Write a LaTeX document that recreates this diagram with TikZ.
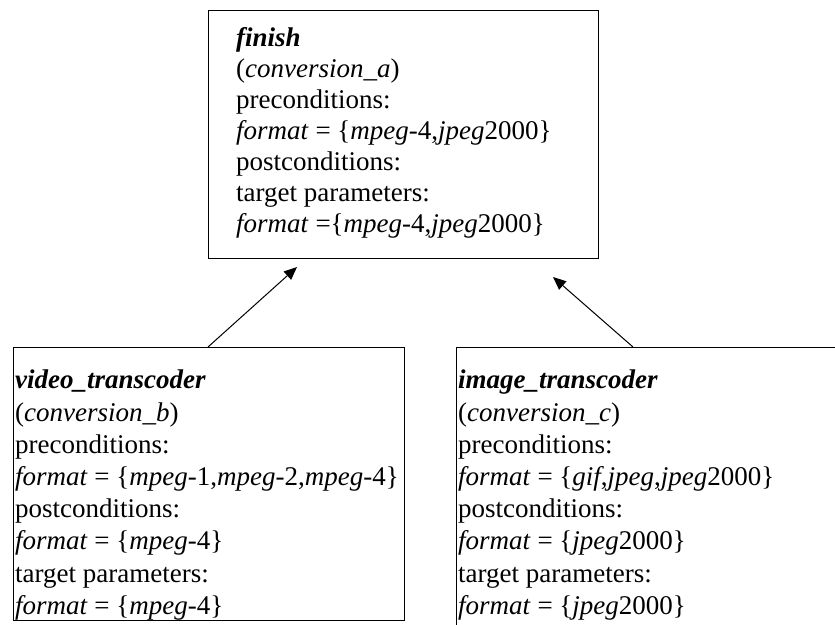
\documentclass[tikz,border=0pt]{standalone}
\usepackage{fontspec}
\setmainfont{Liberation Serif}
\usetikzlibrary{arrows.meta,calc}
\begin{document}
\begin{tikzpicture}[x=1pt,y=-1pt,
  frame/.style={draw=black,line width=1.2pt,inner sep=0pt,anchor=north west},
  txt/.style={anchor=north west,align=left,inner sep=0pt,font=\fontsize{27}{31}\selectfont},
  txtb/.style={txt,font=\fontsize{27}{32.2}\selectfont},
  arr/.style={draw=black,line width=1pt,-{Triangle[length=13pt,width=11pt]}}]
\useasboundingbox (0,0) rectangle (835,624);
\clip (0,0) rectangle (835,624);
% frames
\node[frame,minimum width=390pt,minimum height=248pt] (fin) at (208,10) {};
\node[frame,minimum width=391pt,minimum height=273pt] (vt) at (13,347) {};
\node[frame,minimum width=420pt,minimum height=300pt] (it) at (456,347) {};
% texts
\node[txt] (fintxt) at (236,27) {\textit{\textbf{finish}}\\
(\textit{conversion\_a})\\
preconditions:\\
\textit{format} = \{\textit{mpeg}-4,\textit{jpeg}2000\}\\
postconditions:\\
target parameters:\\
\textit{format} =\{\textit{mpeg}-4,\textit{jpeg}2000\}};
\node[txtb] (vttxt) at (15,370) {\textit{\textbf{video\_transcoder}}\\
(\textit{conversion\_b})\\
preconditions:\\
\textit{format} = \{\textit{mpeg}-1,\textit{mpeg}-2,\textit{mpeg}-4\}\\
postconditions:\\
\textit{format} = \{\textit{mpeg}-4\}\\
target parameters:\\
\textit{format} = \{\textit{mpeg}-4\}};
\node[txtb] (ittxt) at (458,370) {\textit{\textbf{image\_transcoder}}\\
(\textit{conversion\_c})\\
preconditions:\\
\textit{format} = \{\textit{gif},\textit{jpeg},\textit{jpeg}2000\}\\
postconditions:\\
\textit{format} = \{\textit{jpeg}2000\}\\
target parameters:\\
\textit{format} = \{\textit{jpeg}2000\}};
% arrows
\coordinate (tipL) at (297,267);
\coordinate (tipR) at (553,277);
\draw[arr] ($(vt.north west)+(195,0)$) -- (tipL);
\draw[arr] ($(it.north west)+(177,0)$) -- (tipR);
\end{tikzpicture}
\end{document}
